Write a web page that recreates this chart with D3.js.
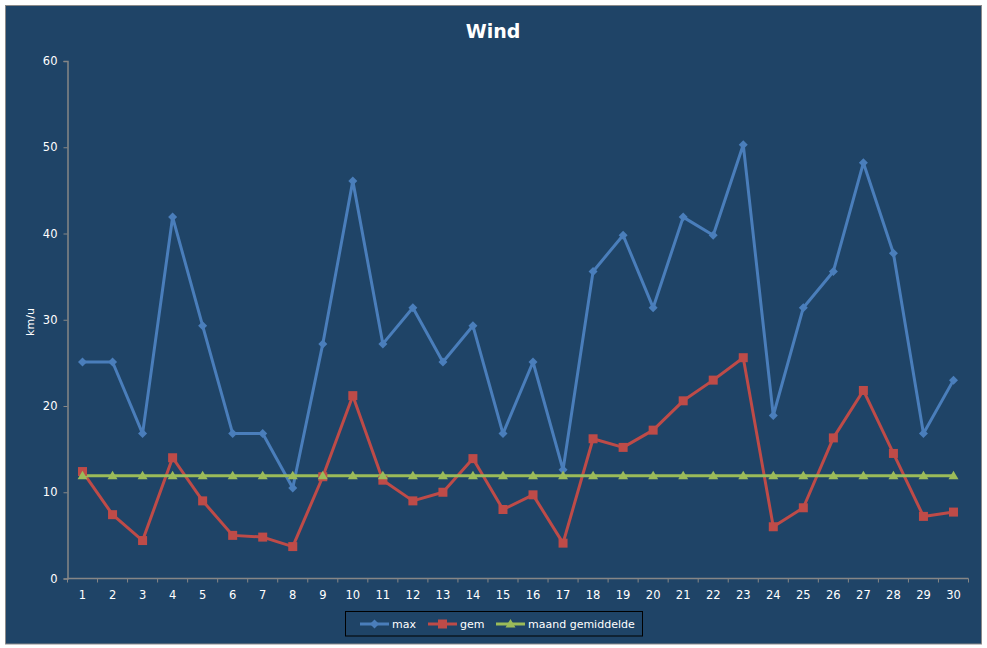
<!DOCTYPE html>
<html><head><meta charset="utf-8">
<script src="https://cdn.jsdelivr.net/npm/d3@7/dist/d3.min.js"></script>
<style>html,body{margin:0;padding:0;background:#fff;}svg{display:block;}</style>
</head><body>
<script>
const days = d3.range(1, 31).map(String);
const maxVals = [25.1,25.1,16.8,41.9,29.3,16.8,16.8,10.5,27.2,46.1,27.2,31.4,25.1,29.3,16.8,25.1,12.6,35.6,39.8,31.4,41.9,39.8,50.3,18.9,31.4,35.6,48.2,37.7,16.8,23.0];
const gemVals = [12.4,7.4,4.4,14.0,9.0,5.0,4.8,3.7,11.8,21.2,11.4,9.0,10.0,13.9,8.0,9.7,4.1,16.2,15.2,17.2,20.6,23.0,25.6,6.0,8.2,16.3,21.8,14.5,7.2,7.7];
const maandVals = days.map(() => 11.9);
const yTicks = [0,10,20,30,40,50,60];
const seriesNames = ["max","gem","maand gemiddelde"];

const W = 987, H = 648;
const svg = d3.select("body").append("svg").attr("width", W).attr("height", H);
const font = "'DejaVu Sans', Verdana, sans-serif";
const bg = "#1F4467";

svg.append("rect").attr("x",5.5).attr("y",5.5).attr("width",976).attr("height",638.5)
  .attr("fill",bg).attr("stroke","#8a8a8a").attr("stroke-width",1);

const plot = {left:67.5, right:968.5, top:61, bottom:578.5};
const x = d3.scaleBand().domain(days).range([plot.left, plot.right]);
const y = d3.scaleLinear().domain([0,60]).range([plot.bottom, plot.top]);

svg.append("text").attr("x",493).attr("y",37.5).attr("text-anchor","middle")
  .attr("fill","#fff").attr("font-family",font).attr("font-weight","bold").attr("font-size",19).text("Wind");

// Y axis
const yAxis = svg.append("g").attr("transform",`translate(${plot.left},0)`)
  .call(d3.axisLeft(y).tickValues(yTicks).tickSize(4).tickPadding(6));
// X axis
const xAxis = svg.append("g").attr("transform",`translate(0,${plot.bottom})`)
  .call(d3.axisBottom(x).tickSize(0).tickPadding(12));
// x ticks at band boundaries
const bounds = days.map(d => x(d)).concat([plot.right]);
svg.append("g").selectAll("line").data(bounds).join("line")
  .attr("x1",d=>d).attr("x2",d=>d).attr("y1",plot.bottom).attr("y2",plot.bottom+4)
  .attr("stroke","#868686").attr("stroke-width",1);

[yAxis, xAxis].forEach(g => {
  g.selectAll("path.domain").attr("stroke","#868686").attr("stroke-width",1.5);
  g.selectAll(".tick line").attr("stroke","#868686");
  g.selectAll("text").attr("fill","#fff").attr("font-family",font).attr("font-size",11.5);
});
xAxis.selectAll("path.domain").attr("d",`M${plot.left},0H${plot.right}`);

svg.append("text").attr("transform","translate(34,322) rotate(-90)").attr("text-anchor","middle")
  .attr("fill","#fff").attr("font-family",font).attr("font-size",11).text("km/u");

const cx = d => x(d) + x.bandwidth()/2;
const line = vals => d3.line().x((v,i)=>cx(days[i])).y(v=>y(v))(vals);

const colors = ["#4A7EBB","#BE4B48","#9BBB59"];
const allSeries = [maxVals, gemVals, maandVals];

function marker(g, type, px, py, color) {
  if (type === 0) {
    g.append("path").attr("d",`M${px},${py-4.5}L${px+4.5},${py}L${px},${py+4.5}L${px-4.5},${py}Z`).attr("fill",color);
  } else if (type === 1) {
    g.append("rect").attr("x",px-4.5).attr("y",py-4.5).attr("width",9).attr("height",9).attr("fill",color);
  } else {
    g.append("path").attr("d",`M${px},${py-5}L${px+5},${py+3.5}L${px-5},${py+3.5}Z`).attr("fill",color);
  }
}

allSeries.forEach((vals, s) => {
  svg.append("path").attr("d", line(vals)).attr("fill","none").attr("stroke",colors[s])
    .attr("stroke-width",3).attr("stroke-linejoin","round");
});
allSeries.forEach((vals, s) => {
  const g = svg.append("g");
  vals.forEach((v,i) => marker(g, s, cx(days[i]), y(v), colors[s]));
});

// Legend
const lg = svg.append("g");
lg.append("rect").attr("x",345.5).attr("y",611.5).attr("width",297).attr("height",24.5)
  .attr("fill","none").attr("stroke","#000").attr("stroke-width",1);
const legX = [360, 428, 496];
seriesNames.forEach((n, s) => {
  lg.append("line").attr("x1",legX[s]).attr("x2",legX[s]+29).attr("y1",624).attr("y2",624)
    .attr("stroke",colors[s]).attr("stroke-width",3);
  marker(lg, s, legX[s]+14.5, 624, colors[s]);
  lg.append("text").attr("x",legX[s]+32).attr("y",628).attr("fill","#fff")
    .attr("font-family",font).attr("font-size",11).text(n);
});
</script>
</body></html>
